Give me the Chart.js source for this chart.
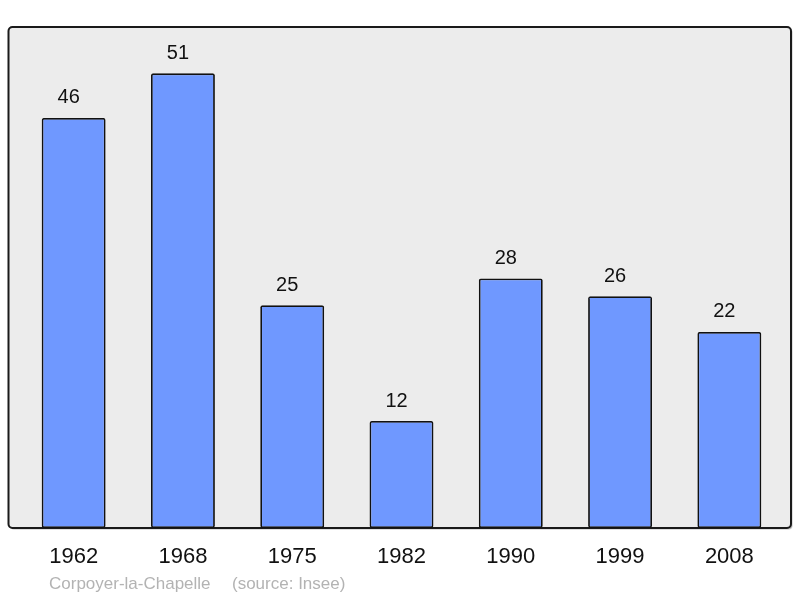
<!DOCTYPE html>
<html>
<head>
<meta charset="utf-8">
<script src="https://cdn.jsdelivr.net/npm/chart.js@4"></script>
<style>
  body { margin: 0; background: #fff; }
  #wrap { width: 800px; height: 598px; position: relative; }
</style>
</head>
<body>
<div id="wrap"><canvas id="myChart" width="800" height="598"></canvas></div>
<script>
var years = ["1962", "1968", "1975", "1982", "1990", "1999", "2008"];
var population = [46, 51, 25, 12, 28, 26, 22];
var sourceText = ["Corpoyer-la-Chapelle", "(source: Insee)"];

// grey frame behind the bars
var framePlugin = {
  id: "frame",
  beforeDraw: function (chart) {
    var ctx = chart.ctx, a = chart.chartArea;
    var x0 = a.left - 10.5, x1 = a.right + 7, y0 = a.top, y1 = a.bottom;
    ctx.save();
    ctx.fillStyle = "rgba(0,0,0,0.25)";
    ctx.beginPath();
    ctx.roundRect(x0 + 1.5, y0 + 1.5, x1 - x0, y1 - y0, 4);
    ctx.fill();
    ctx.fillStyle = "#ececec";
    ctx.strokeStyle = "#1a1a1a";
    ctx.lineWidth = 2;
    ctx.beginPath();
    ctx.roundRect(x0, y0, x1 - x0, y1 - y0, 4);
    ctx.fill();
    ctx.stroke();
    ctx.restore();
  },
  afterDraw: function (chart) {
    var ctx = chart.ctx;
    ctx.save();
    ctx.font = "17px 'Liberation Sans', Arial, sans-serif";
    ctx.fillStyle = "#b3b3b3";
    ctx.textBaseline = "middle";
    ctx.fillText(sourceText[0], 49, 584);
    ctx.fillText(sourceText[1], 232, 584);
    ctx.restore();
  }
};

// numbers above each bar
var valuePlugin = {
  id: "values",
  afterDatasetsDraw: function (chart) {
    var ctx = chart.ctx;
    var meta = chart.getDatasetMeta(0);
    ctx.save();
    ctx.font = "20px 'Liberation Sans', Arial, sans-serif";
    ctx.fillStyle = "#111";
    ctx.textAlign = "center";
    ctx.textBaseline = "middle";
    meta.data.forEach(function (bar, i) {
      ctx.fillText(population[i], bar.x - 5, bar.y - 20);
    });
    ctx.restore();
  }
};

new Chart("myChart", {
  type: "bar",
  data: {
    labels: years,
    datasets: [{
      data: population,
      backgroundColor: "#6f98ff",
      borderColor: "#111",
      borderWidth: 1.8,
      borderRadius: 2,
      borderSkipped: false,
      barPercentage: 0.585,
      categoryPercentage: 1
    }]
  },
  options: {
    responsive: false,
    animation: false,
    devicePixelRatio: 1,
    layout: { padding: { left: 19, right: 16, top: 27, bottom: 0 } },
    plugins: {
      legend: { display: false },
      tooltip: { enabled: false }
    },
    scales: {
      x: {
        grid: { display: false, drawTicks: false },
        border: { display: false },
        ticks: {
          color: "#111",
          padding: 16,
          font: { family: "'Liberation Sans', Arial, sans-serif", size: 22 }
        },
        afterFit: function (scale) { scale.height = 70; }
      },
      y: {
        display: false,
        min: 0,
        max: 56.2
      }
    }
  },
  plugins: [framePlugin, valuePlugin]
});
</script>
</body>
</html>
